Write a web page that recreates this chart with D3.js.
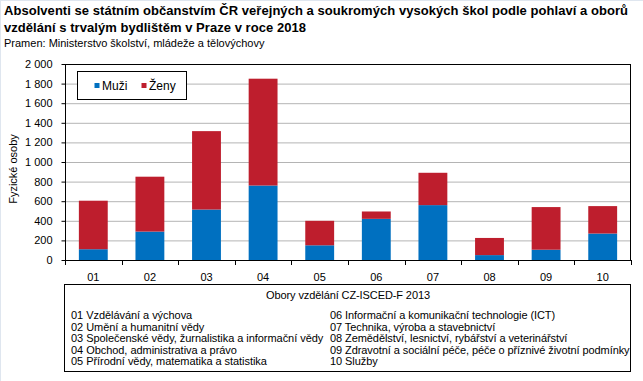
<!DOCTYPE html>
<html><head><meta charset="utf-8">
<script src="https://cdn.jsdelivr.net/npm/d3@7"></script>
<style>
html,body{margin:0;padding:0;background:#fff;}
svg{display:block;font-family:"Liberation Sans",Arial,sans-serif;}
</style></head>
<body><svg id="c" width="643" height="381"></svg>
<script>
const categories = ["01","02","03","04","05","06","07","08","09","10"];
const muzi  = [110, 290, 515, 760, 150, 420, 560, 50, 105, 270];
const zeny  = [495, 560, 800, 1090, 250, 75, 330, 175, 435, 280];
const yTicks = [0,200,400,600,800,1000,1200,1400,1600,1800,2000];
const seriesNames = ["Muži","Ženy"];
const colors = ["#0070C0","#BE1E2D"];
const titleLines = ["Absolventi se státním občanstvím ČR veřejných a soukromých vysokých škol podle pohlaví a oborů",
                    "vzdělání s trvalým bydlištěm v Praze v roce 2018"];
const sourceText = "Pramen: Ministerstvo školství, mládeže a tělovýchovy";
const yLabel = "Fyzické osoby";
const boxTitle = "Obory vzdělání CZ-ISCED-F 2013";
const leftItems = ["01 Vzdělávání a výchova","02 Umění a humanitní vědy","03 Společenské vědy, žurnalistika a informační vědy","04 Obchod, administrativa a právo","05 Přírodní vědy, matematika a statistika"];
const rightItems = ["06 Informační a komunikační technologie (ICT)","07 Technika, výroba a stavebnictví","08 Zemědělství, lesnictví, rybářství a veterinářství","09 Zdravotní a sociální péče, péče o příznivé životní podmínky","10 Služby"];

const svg = d3.select("#c");
// page frame lines
svg.append("rect").attr("x",0).attr("y",0).attr("width",643).attr("height",1).attr("fill","#dfe6ef");
svg.append("rect").attr("x",0).attr("y",0).attr("width",1).attr("height",381).attr("fill","#dfe6ef");

// Title
const tt = svg.append("g").selectAll("text").data(titleLines).join("text")
  .attr("x",4).attr("y",(d,i)=>15+i*17)
  .attr("font-size",13).attr("font-weight","bold").attr("fill","#000").text(d=>d);
const firstLen = tt.nodes()[0].getComputedTextLength();
const ls = Math.max(-0.5, Math.min(0.4, (624 - firstLen) / titleLines[0].length));
tt.attr("letter-spacing", ls);
svg.append("text").attr("x",4).attr("y",47).attr("font-size",11).attr("fill","#000").text(sourceText);

const L=65, R=631, T=64, B=260;
const x = d3.scaleBand().domain(categories).range([L,R]).paddingInner(0.49).paddingOuter(0.245);
const y = d3.scaleLinear().domain([0,2000]).range([B,T]);

// gridlines
svg.append("g").selectAll("line").data(yTicks.filter(d=>d>0 && d<2000)).join("line")
  .attr("x1",L).attr("x2",R).attr("y1",d=>y(d)+0.5).attr("y2",d=>y(d)+0.5)
  .attr("stroke","#b4b4b4").attr("stroke-width",1);

// stacked bars
const data = categories.map((c,i)=>({cat:c, Muži:muzi[i], Ženy:zeny[i]}));
const stack = d3.stack().keys(seriesNames)(data);
svg.append("g").selectAll("g").data(stack).join("g").attr("fill",(d,i)=>colors[i])
  .selectAll("rect").data(d=>d).join("rect")
  .attr("x",d=>x(d.data.cat)).attr("width",x.bandwidth())
  .attr("y",d=>y(d[1])).attr("height",d=>y(d[0])-y(d[1]));

// plot frame
svg.append("rect").attr("x",L+0.5).attr("y",T+0.5).attr("width",R-L-1).attr("height",B-T)
  .attr("fill","none").attr("stroke","#000").attr("stroke-width",1);

// y axis
const fmt = d3.formatLocale({decimal:",",thousands:"\u00a0",grouping:[3],currency:["",""]}).format(",d");
const yAxis = d3.axisLeft(y).tickValues(yTicks).tickSize(4).tickPadding(9).tickFormat(fmt);
const gy = svg.append("g").attr("transform",`translate(${L+0.5},0)`).call(yAxis);
gy.select(".domain").remove();
gy.selectAll("text").attr("font-size",11).attr("font-family","Liberation Sans, Arial").attr("fill","#000");
gy.selectAll("line").attr("stroke","#000");

// x axis
const xAxis = d3.axisBottom(x).tickSize(0).tickPadding(13);
const gx = svg.append("g").attr("transform",`translate(0,${B+0.5})`).call(xAxis);
gx.select(".domain").attr("stroke","#000").attr("d",`M${L},0H${R}`);
gx.selectAll("text").attr("font-size",11).attr("font-family","Liberation Sans, Arial").attr("fill","#000");
// boundary ticks
const step = x.step();
svg.append("g").selectAll("line").data(d3.range(categories.length+1)).join("line")
  .attr("x1",i=>Math.round(L+i*step)+0.5).attr("x2",i=>Math.round(L+i*step)+0.5)
  .attr("y1",B).attr("y2",B+5).attr("stroke","#000");

// y label
svg.append("text").attr("transform","translate(17,169) rotate(-90)").attr("text-anchor","middle")
  .attr("font-size",11).attr("fill","#000").text(yLabel);

// legend
const lg = svg.append("g");
lg.append("rect").attr("x",77.5).attr("y",71.5).attr("width",109).attr("height",28).attr("fill","#fff").attr("stroke","#000");
const lx=[94.5,141.5];
seriesNames.forEach((n,i)=>{
  lg.append("rect").attr("x",lx[i]).attr("y",83).attr("width",5).attr("height",5).attr("fill",colors[i]);
  lg.append("text").attr("x",lx[i]+7.5).attr("y",90).attr("font-size",12).attr("fill","#000").text(n);
});

// bottom box
svg.append("rect").attr("x",64.5).attr("y",284.5).attr("width",566).attr("height",87).attr("fill","#fff").attr("stroke","#000");
svg.append("text").attr("x",348).attr("y",299).attr("text-anchor","middle").attr("font-size",11).attr("letter-spacing",-0.1).attr("fill","#000").text(boxTitle);
svg.append("g").selectAll("text").data(leftItems).join("text")
  .attr("x",71).attr("y",(d,i)=>319+i*11.6).attr("font-size",11).attr("letter-spacing",-0.05).attr("fill","#000").text(d=>d);
svg.append("g").selectAll("text").data(rightItems).join("text")
  .attr("x",330).attr("y",(d,i)=>319+i*11.6).attr("font-size",11).attr("letter-spacing",-0.08).attr("fill","#000").text(d=>d);
</script></body></html>
